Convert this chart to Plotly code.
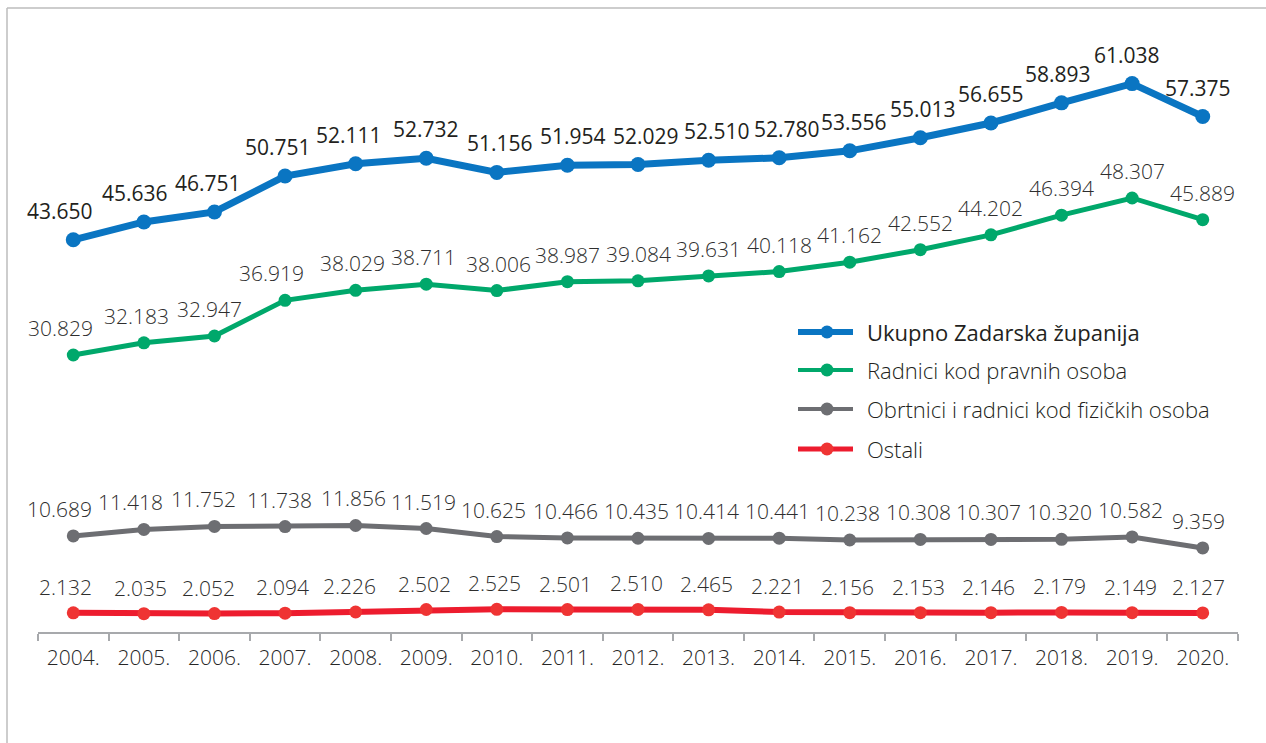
import plotly.graph_objects as go

years = ["2004.", "2005.", "2006.", "2007.", "2008.", "2009.", "2010.", "2011.", "2012.",
         "2013.", "2014.", "2015.", "2016.", "2017.", "2018.", "2019.", "2020."]

ukupno = [43.650, 45.636, 46.751, 50.751, 52.111, 52.732, 51.156, 51.954, 52.029,
          52.510, 52.780, 53.556, 55.013, 56.655, 58.893, 61.038, 57.375]
pravne = [30.829, 32.183, 32.947, 36.919, 38.029, 38.711, 38.006, 38.987, 39.084,
          39.631, 40.118, 41.162, 42.552, 44.202, 46.394, 48.307, 45.889]
obrtnici = [10.689, 11.418, 11.752, 11.738, 11.856, 11.519, 10.625, 10.466, 10.435,
            10.414, 10.441, 10.238, 10.308, 10.307, 10.320, 10.582, 9.359]
ostali = [2.132, 2.035, 2.052, 2.094, 2.226, 2.502, 2.525, 2.501, 2.510,
          2.465, 2.221, 2.156, 2.153, 2.146, 2.179, 2.149, 2.127]

names = ["Ukupno Zadarska županija", "Radnici kod pravnih osoba",
         "Obrtnici i radnici kod fizičkih osoba", "Ostali"]

FONT = "Open Sans"
TXT = "#231F20"

series = [
    dict(y=ukupno, name=names[0], color="#0A75C2", mcolor="#0A75C2", lw=7, ms=15, bold=True,
         xs=[-13, -9, -6, -7, -7, 0, 3, 6, 8, 8, 8, 4, 3, 0, -4, -5, -5], ys=29),
    dict(y=pravne, name=names[1], color="#00A86B", mcolor="#00A86B", lw=5, ms=13, bold=False,
         xs=[-13, -7, -5, -14, -3, -3, 2, 0, 0, 0, 0, 0, 0, 0, 0, 0, 0], ys=27),
    dict(y=obrtnici, name=names[2], color="#6D6E72", mcolor="#6D6E72", lw=5, ms=13, bold=False,
         xs=[-14, -13, -11, -6, -2, -3, -3, -2, -2, -2, -2, -2, -2, -2, -2, -2, -4], ys=27),
    dict(y=ostali, name=names[3], color="#ED1C2E", mcolor="#EF3433", lw=6, ms=13, bold=False,
         xs=[-8, -3, -6, -3, -6, -2, -2, -2, -2, -2, -2, -2, -2, -2, -2, -2, -4], ys=26),
]

fig = go.Figure()
annotations = []
for s in series:
    fig.add_trace(go.Scatter(
        x=years, y=s["y"], mode="lines+markers", name=s["name"],
        line=dict(color=s["color"], width=s["lw"]),
        marker=dict(color=s["mcolor"], size=s["ms"]),
        showlegend=False, cliponaxis=False, hoverinfo="skip",
    ))
    for i, v in enumerate(s["y"]):
        annotations.append(dict(
            x=i, y=v, xref="x", yref="y", text=f"{v:.3f}", showarrow=False,
            yshift=s["ys"], xshift=s["xs"][i],
            font=dict(family=FONT, size=21, color=TXT if s["bold"] else "#2E2E2E",
                      weight=500 if s["bold"] else 300),
        ))

# custom legend (paper coordinates)
W, H, L = 1200.0, 584.0, 38.0
def px_x(px):
    return (px - L) / W
def px_y(py):
    return (632.0 - py) / H

shapes = []
leg_rows = [332, 370, 409, 449]
for s, row in zip(series, leg_rows):
    shapes.append(dict(type="line", xref="paper", yref="paper",
                       x0=px_x(798), x1=px_x(853), y0=px_y(row), y1=px_y(row),
                       line=dict(color=s["color"], width=s["lw"] - 1)))
    r = 6.5
    shapes.append(dict(type="circle", xref="paper", yref="paper",
                       x0=px_x(827 - r), x1=px_x(827 + r), y0=px_y(row + r), y1=px_y(row - r),
                       fillcolor=s["mcolor"], line=dict(width=0)))
    annotations.append(dict(
        x=px_x(865), y=px_y(row), xref="paper", yref="paper", xanchor="left", yanchor="middle",
        text=s["name"], showarrow=False,
        font=dict(family=FONT, size=22, color=TXT, weight=500 if s["bold"] else 300),
    ))

# frame
shapes.append(dict(type="line", xref="paper", yref="paper",
                   x0=px_x(7), x1=px_x(1300), y0=px_y(8), y1=px_y(8),
                   line=dict(color="#BDBDBD", width=1.5)))
shapes.append(dict(type="line", xref="paper", yref="paper",
                   x0=px_x(7), x1=px_x(7), y0=px_y(8), y1=px_y(760),
                   line=dict(color="#BDBDBD", width=1.5)))

fig.update_layout(
    width=1266, height=743,
    margin=dict(l=38, r=28, t=48, b=111),
    paper_bgcolor="white", plot_bgcolor="white",
    font=dict(family=FONT, size=20, color=TXT),
    annotations=annotations, shapes=shapes,
    hovermode=False,
    xaxis=dict(
        type="category", range=[-0.5, 16.5], showgrid=False, zeroline=False,
        showline=True, linecolor="#A7A9AC", linewidth=2,
        ticks="outside", tickson="boundaries", ticklen=7, tickwidth=2, tickcolor="#A7A9AC",
        ticklabelstandoff=6,
        tickfont=dict(family=FONT, size=21, color="#262626", weight=300),
    ),
    yaxis=dict(range=[0, 65], visible=False, showgrid=False, zeroline=False),
)

fig.write_html("out.html", config={"displayModeBar": False},
               post_script="document.body.style.margin='0';")
